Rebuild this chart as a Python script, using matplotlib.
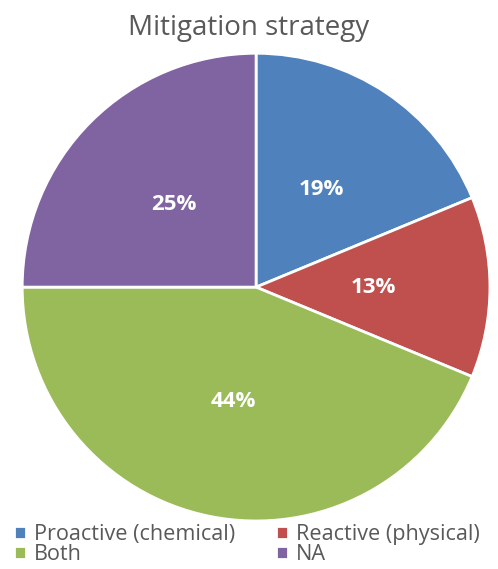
import matplotlib.pyplot as plt
import numpy as np

labels = ["Proactive (chemical)", "Reactive (physical)", "Both", "NA"]
counts = [3, 2, 7, 4]
pct_text = ["19%", "13%", "44%", "25%"]
colors = ["#4F81BD", "#C0504D", "#9BBB59", "#8064A2"]

plt.rcParams['font.family'] = ['Open Sans', 'DejaVu Sans']

fig = plt.figure(figsize=(4.98, 5.69), dpi=100)
ax = fig.add_axes([0.0442, 0.0844, 0.94, 0.822])

wedges, _ = ax.pie(counts, colors=colors, startangle=90, counterclock=False,
                   radius=1, wedgeprops=dict(edgecolor="white", linewidth=2))
total = sum(counts)
ang = 90
for c, t in zip(counts, pct_text):
    mid = ang - c / total * 360 / 2
    ang -= c / total * 360
    ax.text(0.5 * np.cos(np.radians(mid)), 0.5 * np.sin(np.radians(mid)), t,
            ha="center", va="center", color="white", fontsize=16, fontweight="bold")
ax.set_xlim(-1, 1)
ax.set_ylim(-1, 1)
ax.set_aspect("equal")

fig.text(0.5, 0.951, "Mitigation strategy", ha="center", va="center",
         fontsize=20, color="#595959")

# row-wise legend order
order = [0, 2, 1, 3]
fig.legend([wedges[i] for i in order], [labels[i] for i in order],
           loc="lower left", bbox_to_anchor=(0.003, -0.016), ncol=2,
           frameon=False, fontsize=15.6, labelcolor="#595959", handlelength=0.55,
           handleheight=0.55, handletextpad=0.35, columnspacing=1.9,
           labelspacing=-0.05, borderaxespad=0.2)

fig.savefig("out.png", dpi=100)
